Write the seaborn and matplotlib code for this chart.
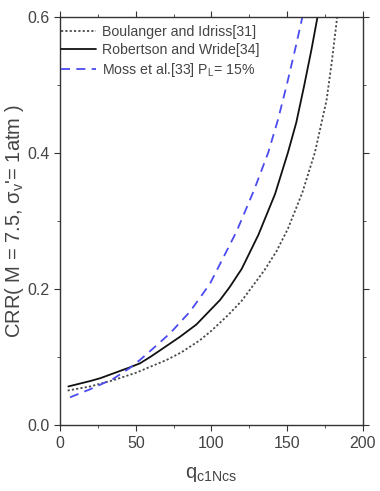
import pandas as pd
import seaborn as sns
import matplotlib.pyplot as plt
from matplotlib.ticker import MultipleLocator

# values
q_bi = [5, 20, 26.4, 35, 50, 70.4, 80, 92.4, 100, 111, 120, 135, 143, 150.5, 160, 168.3, 176, 179.5, 183]
crr_bi = [0.051, 0.057, 0.061, 0.066, 0.077, 0.096, 0.107, 0.125, 0.139, 0.162, 0.183, 0.228, 0.256, 0.289, 0.342, 0.401, 0.478, 0.535, 0.600]

q_rw = [5.5, 20, 26.4, 35, 46, 52.8, 60, 66, 79.2, 90, 105.6, 112, 120, 131, 142, 150.5, 156, 161, 166, 170]
crr_rw = [0.057, 0.065, 0.069, 0.076, 0.085, 0.091, 0.101, 0.110, 0.130, 0.148, 0.184, 0.203, 0.230, 0.280, 0.340, 0.401, 0.445, 0.497, 0.552, 0.600]

q_moss = [6.6, 20, 35, 46, 52.8, 60, 72.6, 85.8, 99, 116.6, 128, 137.5, 144, 150, 156, 160]
crr_moss = [0.041, 0.053, 0.068, 0.084, 0.096, 0.110, 0.135, 0.167, 0.208, 0.285, 0.345, 0.401, 0.450, 0.503, 0.560, 0.600]

names = ['Boulanger and Idriss[31]', 'Robertson and Wride[34]', 'Moss et al.[33] P$_L$= 15%']

df = pd.concat([
    pd.DataFrame({'q': q_bi, 'crr': crr_bi, 'src': names[0]}),
    pd.DataFrame({'q': q_rw, 'crr': crr_rw, 'src': names[1]}),
    pd.DataFrame({'q': q_moss, 'crr': crr_moss, 'src': names[2]}),
])

sns.set_style('ticks')
plt.rcParams['font.family'] = ['Liberation Sans', 'DejaVu Sans']
plt.rcParams['mathtext.fontset'] = 'custom'
plt.rcParams['mathtext.rm'] = 'Liberation Sans'
plt.rcParams['mathtext.it'] = 'Liberation Sans'

fig = plt.figure(figsize=(3.8, 4.91), dpi=100)
ax = fig.add_axes([0.158, 0.134, 0.797, 0.831])

palette = {names[0]: '#4a4a4a', names[1]: '#111111', names[2]: '#4b4bf0'}
sns.lineplot(data=df, x='q', y='crr', hue='src', style='src', palette=palette,
             dashes={names[0]: (1.2, 1.2), names[1]: '', names[2]: (5, 3.5)},
             sort=False, estimator=None, ax=ax, linewidth=1.3)

ax.set_xlim(0, 200)
ax.set_ylim(0, 0.6)
ax.xaxis.set_major_locator(MultipleLocator(50))
ax.xaxis.set_minor_locator(MultipleLocator(25))
ax.yaxis.set_major_locator(MultipleLocator(0.2))
ax.yaxis.set_minor_locator(MultipleLocator(0.1))
ax.yaxis.set_major_formatter(plt.FuncFormatter(lambda v, p: f'{v:.1f}'))
ax.tick_params(which='both', direction='out', top=True, right=True, labelsize=11.5,
               colors='#333333', labelcolor='#444444')
ax.tick_params(which='major', length=4)
ax.tick_params(which='minor', length=2.5)
for s in ax.spines.values():
    s.set_color('#333333')
    s.set_linewidth(1.0)

ax.set_xlabel('q$_{c1Ncs}$', fontsize=14.5, color='#444444', labelpad=10)
ax.set_ylabel("CRR( M = 7.5, $\\sigma_v$'= 1atm )", fontsize=14.5, color='#444444', labelpad=1)

leg = ax.legend(loc='upper left', bbox_to_anchor=(-0.006, 0.988), frameon=False, fontsize=10.2,
                handlelength=2.5, borderaxespad=0, labelspacing=0.3, handletextpad=0.4, borderpad=0.2)
for t in leg.get_texts():
    t.set_color('#444444')

fig.savefig('out.png', dpi=100)
